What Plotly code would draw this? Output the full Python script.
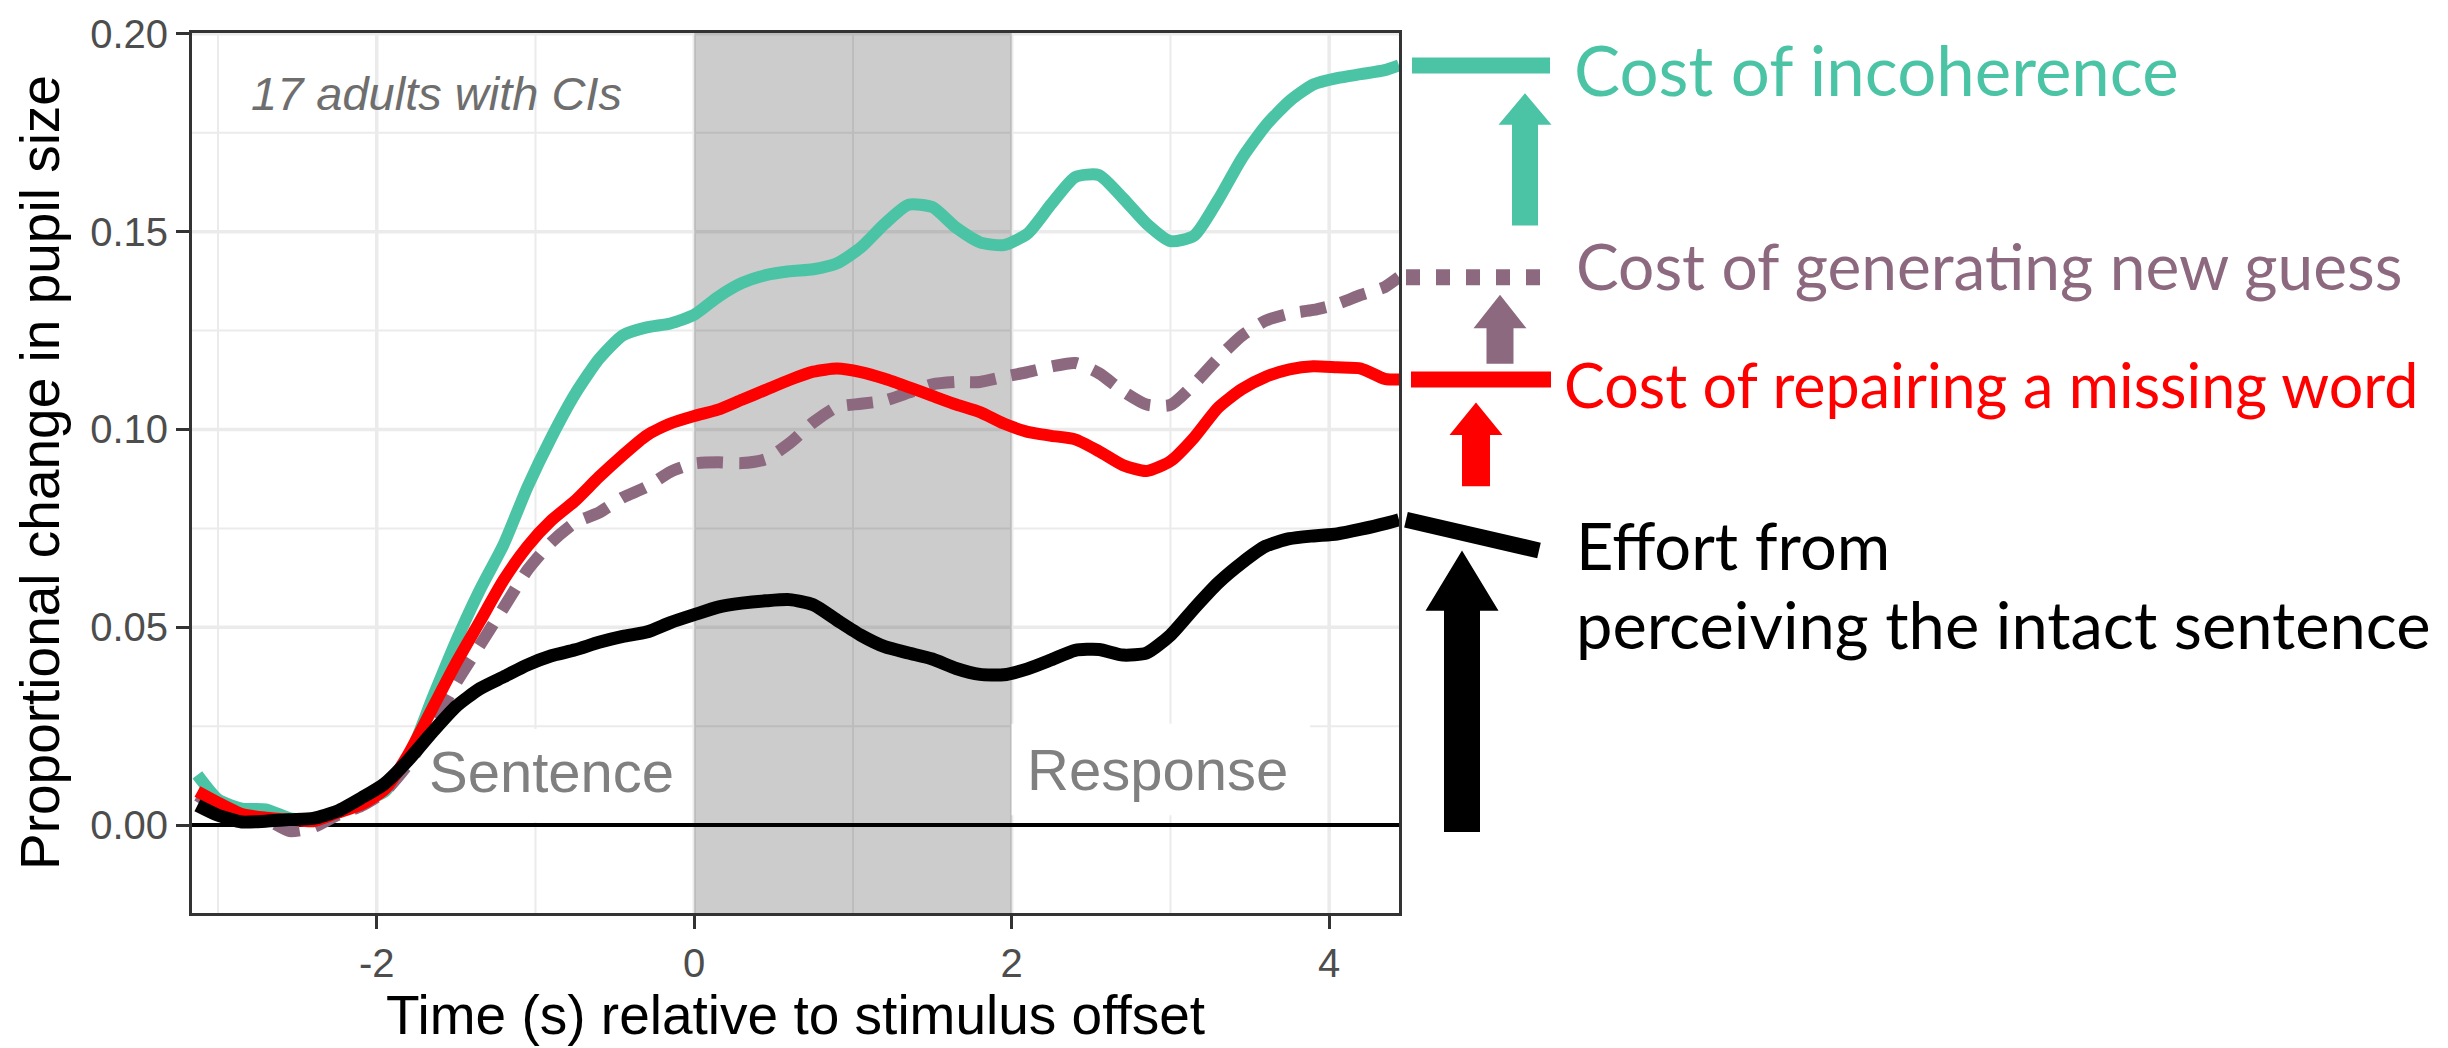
import plotly.graph_objects as go

# ---------------- data ----------------
time_s = [-3.13, -3.0, -2.85, -2.7, -2.55, -2.4, -2.25, -2.1, -1.95, -1.8, -1.65, -1.5, -1.35, -1.2,
          -1.05, -0.9, -0.75, -0.6, -0.45, -0.3, -0.15, 0.0, 0.15, 0.3, 0.45, 0.6, 0.75, 0.9, 1.05,
          1.2, 1.35, 1.5, 1.65, 1.8, 1.95, 2.1, 2.25, 2.4, 2.55, 2.7, 2.85, 3.0, 3.15, 3.3, 3.45,
          3.6, 3.75, 3.9, 4.05, 4.2, 4.35, 4.44]

incoherent = [0.0127, 0.0065, 0.0042, 0.0040, 0.0018, 0.0013, 0.0032, 0.0058, 0.0085, 0.017, 0.032,
              0.0465, 0.0595, 0.071, 0.0855, 0.098, 0.109, 0.1178, 0.1238, 0.1258, 0.1268, 0.129,
              0.1335, 0.137, 0.139, 0.140, 0.1405, 0.142, 0.146, 0.152, 0.1568, 0.1562, 0.151,
              0.1473, 0.1466, 0.1495, 0.157, 0.1638, 0.1643, 0.1585, 0.152, 0.1476, 0.149, 0.158,
              0.1685, 0.1768, 0.183, 0.1872, 0.1888, 0.1898, 0.1908, 0.192]

new_guess = [0.0075, 0.0045, 0.0025, 0.0015, -0.0015, -0.0005, 0.0025, 0.0048, 0.0085, 0.0155, 0.025,
             0.036, 0.0455, 0.055, 0.0645, 0.0715, 0.0765, 0.079, 0.0828, 0.0855, 0.0893, 0.0914,
             0.0917, 0.0915, 0.0925, 0.0965, 0.1018, 0.1057, 0.1065, 0.1073, 0.1093, 0.1114, 0.112,
             0.112, 0.1133, 0.1145, 0.1159, 0.1168, 0.1142, 0.1097, 0.1063, 0.1062, 0.1115, 0.118,
             0.1237, 0.1275, 0.1293, 0.1302, 0.1317, 0.134, 0.136, 0.1385]

missing_word = [0.0085, 0.0057, 0.0028, 0.0019, 0.0014, 0.0010, 0.0031, 0.0052, 0.009, 0.018, 0.0295,
                0.041, 0.0515, 0.062, 0.0705, 0.077, 0.082, 0.088, 0.0935, 0.0985, 0.1015, 0.1034,
                0.105, 0.1075, 0.110, 0.1125, 0.1146, 0.1154, 0.1145, 0.1128, 0.1107, 0.1085, 0.1063,
                0.1044, 0.1015, 0.0994, 0.0984, 0.0975, 0.0945, 0.091, 0.0895, 0.092, 0.098, 0.1055,
                0.1102, 0.1133, 0.1152, 0.116, 0.1157, 0.1154, 0.1128, 0.1126]

intact = [0.0050, 0.0025, 0.0008, 0.0010, 0.0014, 0.0017, 0.0035, 0.0068, 0.0105, 0.0165, 0.0235,
          0.030, 0.0345, 0.0375, 0.0405, 0.0428, 0.0443, 0.0462, 0.0477, 0.0488, 0.0512, 0.0532,
          0.0551, 0.0561, 0.0567, 0.057, 0.0557, 0.0518, 0.048, 0.0451, 0.0435, 0.042, 0.0396,
          0.0381, 0.038, 0.0395, 0.0418, 0.0442, 0.0444, 0.043, 0.0435, 0.048, 0.0548, 0.0612,
          0.0663, 0.0705, 0.0724, 0.0731, 0.0736, 0.0748, 0.0762, 0.0772]

x_tick_vals = [-2, 0, 2, 4]
x_tick_text = ["-2", "0", "2", "4"]
x_minor_vals = [-3, -1, 1, 3]
y_tick_vals = [0.0, 0.05, 0.10, 0.15, 0.20]
y_tick_text = ["0.00", "0.05", "0.10", "0.15", "0.20"]
y_minor_vals = [0.025, 0.075, 0.125, 0.175]

response_window = [0, 2]

labels = {
    "incoherent": "Cost of incoherence",
    "new_guess": "Cost of generating new guess",
    "missing_word": "Cost of repairing a missing word",
    "intact_1": "Effort from",
    "intact_2": "perceiving the intact sentence",
}

# ---------------- style ----------------
TEAL = "#4BC3A5"
MAUVE = "#8D6980"
RED = "#FF0000"
BLACK = "#000000"
GRID = "#EBEBEB"
PLOT_FONT = "Liberation Sans, Arial, Helvetica, sans-serif"
SIDE_FONT = "Lato, Calibri, Open Sans, sans-serif"

W, H = 2448, 1048
# plot-area edges in window pixels
L, R, T, B = 192, 1399, 22, 913
X_RANGE = [-3.164, 4.44]
Y_RANGE = [-0.0222, 0.2002]


def px(X):
    return (X - L) / (R - L)


def py(Y):
    return (B - Y) / (B - T)


def arrow_path(cx, tip, base, bottom, head_w, shaft_w):
    pts = [(cx, tip), (cx + head_w / 2, base), (cx + shaft_w / 2, base), (cx + shaft_w / 2, bottom),
           (cx - shaft_w / 2, bottom), (cx - shaft_w / 2, base), (cx - head_w / 2, base)]
    return "M " + " L ".join(f"{px(x):.5f},{py(y):.5f}" for x, y in pts) + " Z"


fig = go.Figure()

for ys, col, dash, wid in [(incoherent, TEAL, "solid", 12), (new_guess, MAUVE, "26px,16px", 12),
                           (missing_word, RED, "solid", 12), (intact, BLACK, "solid", 13)]:
    fig.add_trace(go.Scatter(x=time_s, y=ys, mode="lines",
                             line=dict(color=col, width=wid, dash=dash, shape="spline", smoothing=0.6),
                             hoverinfo="skip", showlegend=False))

shapes = []
# grid (drawn as background shapes so the grey window can sit on top of it)
for v in x_minor_vals:
    shapes.append(dict(type="line", xref="x", yref="paper", x0=v, x1=v, y0=0, y1=1,
                       line=dict(color=GRID, width=2), layer="below"))
for v in y_minor_vals:
    shapes.append(dict(type="line", xref="paper", yref="y", x0=0, x1=1, y0=v, y1=v,
                       line=dict(color=GRID, width=2), layer="below"))
for v in x_tick_vals:
    shapes.append(dict(type="line", xref="x", yref="paper", x0=v, x1=v, y0=0, y1=1,
                       line=dict(color=GRID, width=3.5), layer="below"))
for v in y_tick_vals:
    shapes.append(dict(type="line", xref="paper", yref="y", x0=0, x1=1, y0=v, y1=v,
                       line=dict(color=GRID, width=3.5), layer="below"))
# grey response window
shapes.append(dict(type="rect", xref="x", yref="paper", x0=response_window[0], x1=response_window[1],
                   y0=0, y1=1, fillcolor="rgba(0,0,0,0.2)", line=dict(width=0), layer="below"))
# white label boxes
shapes.append(dict(type="rect", xref="x", yref="y", x0=-1.78, x1=-0.05, y0=0.0008, y1=0.0243,
                   fillcolor="white", line=dict(width=0), layer="below"))
shapes.append(dict(type="rect", xref="x", yref="y", x0=2.0, x1=3.88, y0=0.0025, y1=0.0256,
                   fillcolor="white", line=dict(width=0), layer="below"))

# side markers at series end values
shapes.append(dict(type="line", xref="paper", yref="y", x0=px(1412), x1=px(1550),
                   y0=incoherent[-1], y1=incoherent[-1], line=dict(color=TEAL, width=16)))
shapes.append(dict(type="line", xref="paper", yref="y", x0=px(1406), x1=px(1551),
                   y0=new_guess[-1], y1=new_guess[-1], line=dict(color=MAUVE, width=16, dash="14px,16px")))
shapes.append(dict(type="line", xref="paper", yref="y", x0=px(1411), x1=px(1551),
                   y0=missing_word[-1], y1=missing_word[-1], line=dict(color=RED, width=16)))
shapes.append(dict(type="line", xref="paper", yref="y", x0=px(1406), x1=px(1539),
                   y0=intact[-1], y1=intact[-1] - 0.0078, line=dict(color=BLACK, width=16)))

# arrows
for cx, tip, base, bottom, hw, sw, col in [(1525, 83, 115, 217, 53, 26, TEAL),
                                            (1500, 287, 321, 357, 53, 27, MAUVE),
                                            (1476, 396, 429, 481, 53, 28, RED),
                                            (1462, 546, 607, 831, 73, 36, BLACK)]:
    shapes.append(dict(type="path", xref="paper", yref="paper", path=arrow_path(cx, tip, base, bottom, hw, sw),
                       fillcolor=col, line=dict(width=0)))

annotations = []
annotations.append(dict(x=-2.805, y=0.1848, xref="x", yref="y", text="<i>17 adults with CIs</i>",
                        showarrow=False, xanchor="left", yanchor="middle",
                        font=dict(family=PLOT_FONT, size=47, color="#6E6E6E")))
annotations.append(dict(x=-1.683, y=0.0135, xref="x", yref="y", text="Sentence", showarrow=False,
                        xanchor="left", yanchor="middle", font=dict(family=PLOT_FONT, size=58, color="#808080")))
annotations.append(dict(x=2.085, y=0.014, xref="x", yref="y", text="Response", showarrow=False,
                        xanchor="left", yanchor="middle", font=dict(family=PLOT_FONT, size=58, color="#808080")))
# axis titles
annotations.append(dict(x=0.5, y=py(1016), xref="paper", yref="paper", text="Time (s) relative to stimulus offset",
                        showarrow=False, xanchor="center", yanchor="middle",
                        font=dict(family=PLOT_FONT, size=55, color="black")))
annotations.append(dict(x=px(40), y=0.5, xref="paper", yref="paper", text="Proportional change in pupil size",
                        showarrow=False, xanchor="center", yanchor="middle", textangle=-90,
                        font=dict(family=PLOT_FONT, size=55, color="black")))
# side labels (left edge, vertical centre in window pixels, font size)
for key, X, Y, size, col in [("incoherent", 1572, 59, 69, TEAL), ("new_guess", 1574, 257, 64, MAUVE),
                             ("missing_word", 1562, 378, 61, RED), ("intact_1", 1574, 540, 65, BLACK),
                             ("intact_2", 1574, 620, 65, BLACK)]:
    annotations.append(dict(x=px(X), y=py(Y), xref="paper", yref="paper", text=labels[key],
                            showarrow=False, xanchor="left", yanchor="middle",
                            font=dict(family=SIDE_FONT, size=size, color=col)))

fig.update_layout(
    width=W, height=H,
    margin=dict(l=L, r=W - R, t=T, b=H - B, pad=0),
    paper_bgcolor="white", plot_bgcolor="white",
    showlegend=False, hovermode=False,
    shapes=shapes, annotations=annotations,
)

fig.update_xaxes(range=X_RANGE, tickmode="array", tickvals=x_tick_vals, ticktext=x_tick_text,
                 showgrid=False,
                 ticks="outside", ticklen=13, tickwidth=3, tickcolor="#333333",
                 tickfont=dict(family=PLOT_FONT, size=40, color="#4D4D4D"), ticklabeloverflow="allow",
                 showline=True, linecolor="#333333", linewidth=3, mirror=True, zeroline=False)
fig.update_yaxes(range=Y_RANGE, tickmode="array", tickvals=y_tick_vals, ticktext=y_tick_text,
                 showgrid=False,
                 ticks="outside", ticklen=13, tickwidth=3, tickcolor="#333333",
                 tickfont=dict(family=PLOT_FONT, size=40, color="#4D4D4D"), ticklabeloverflow="allow",
                 showline=True, linecolor="#333333", linewidth=3, mirror=True,
                 zeroline=True, zerolinecolor="black", zerolinewidth=4)

# remove the browser's default 8px body margin so the figure fills the window exactly
fig.write_html("out.html", config={"displayModeBar": False},
               post_script="document.body.style.margin='0';document.body.style.overflow='hidden';")
